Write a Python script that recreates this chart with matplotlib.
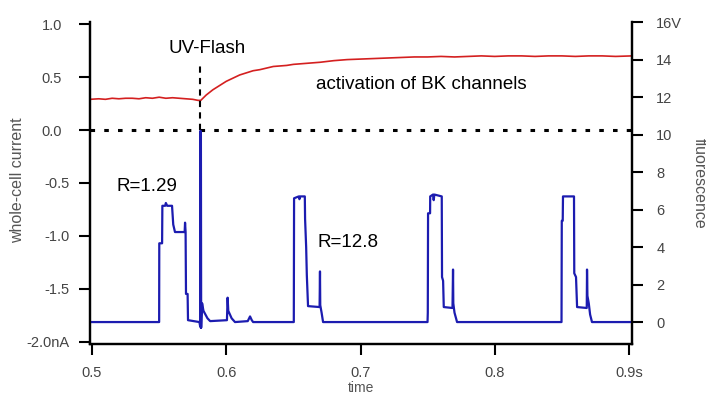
import matplotlib
matplotlib.use("Agg")
import matplotlib.pyplot as plt
from matplotlib.transforms import ScaledTranslation

plt.rcParams['font.family'] = ['Liberation Sans', 'DejaVu Sans']

# red trace (left axis, nA)
red_t = [0.4985, 0.505, 0.510, 0.515, 0.520, 0.525, 0.530, 0.535, 0.540, 0.545,
         0.550, 0.555, 0.560, 0.565, 0.570, 0.575, 0.579, 0.581, 0.585, 0.590,
         0.595, 0.600, 0.605, 0.610, 0.615, 0.620, 0.625, 0.630, 0.635, 0.640,
         0.645, 0.650, 0.660, 0.670, 0.680, 0.690, 0.700, 0.710, 0.720, 0.730,
         0.740, 0.750, 0.760, 0.770, 0.780, 0.790, 0.800, 0.810, 0.820, 0.830,
         0.840, 0.850, 0.860, 0.870, 0.880, 0.890, 0.9022]
red_v = [0.29, 0.295, 0.29, 0.30, 0.295, 0.30, 0.30, 0.295, 0.305, 0.30,
         0.31, 0.30, 0.305, 0.30, 0.295, 0.29, 0.28, 0.28, 0.33, 0.38,
         0.42, 0.46, 0.49, 0.52, 0.54, 0.56, 0.57, 0.585, 0.60, 0.605,
         0.61, 0.62, 0.63, 0.64, 0.655, 0.665, 0.67, 0.675, 0.68, 0.685,
         0.69, 0.69, 0.695, 0.69, 0.695, 0.70, 0.695, 0.70, 0.70, 0.695,
         0.70, 0.70, 0.695, 0.70, 0.70, 0.695, 0.70]

# blue trace (right axis, V)
blue_t = [0.4985, 0.5500, 0.5501, 0.5522, 0.5524, 0.5545, 0.5550, 0.5560, 0.5596,
          0.5605, 0.5618, 0.5690, 0.5693, 0.5697, 0.5700, 0.5712, 0.5715, 0.5800,
          0.5805, 0.5808, 0.5810, 0.5811, 0.5813, 0.5815, 0.5820, 0.5830, 0.5860,
          0.5880, 0.6005, 0.6010, 0.6015, 0.6040, 0.6065, 0.6160, 0.6177, 0.6190,
          0.6200,
          0.6503, 0.6505, 0.6540, 0.6545, 0.6550, 0.6585, 0.6587, 0.6595, 0.6600,
          0.6609, 0.6695, 0.6698, 0.6700, 0.6710, 0.6721,
          0.7499, 0.7501, 0.7503, 0.7518, 0.7519, 0.7540, 0.7545, 0.7550, 0.7605,
          0.7607, 0.7615, 0.7620, 0.7685, 0.7689, 0.7691, 0.7700, 0.7719,
          0.8497, 0.8499, 0.8506, 0.8508, 0.8590, 0.8592, 0.8605, 0.8613, 0.8685,
          0.8687, 0.8690, 0.8700, 0.8710, 0.8724, 0.9022]
blue_v = [0.0, 0.0, 4.2, 4.2, 6.2, 6.2, 6.35, 6.2, 6.2,
          5.2, 4.8, 4.8, 5.3, 4.8, 1.5, 1.5, 0.1, 0.0,
          -0.2, 10.2, -0.3, 10.0, -0.3, 0.2, 1.0, 0.6, 0.2,
          0.05, 0.1, 1.3, 0.6, 0.2, 0.0, 0.05, 0.3, 0.1,
          0.0,
          0.0, 6.6, 6.7, 6.55, 6.7, 6.7, 5.5, 4.0, 2.5,
          0.85, 0.8, 2.7, 0.9, 0.5, 0.0,
          0.0, 0.5, 5.8, 5.8, 6.7, 6.8, 6.5, 6.8, 6.7,
          2.4, 2.2, 0.8, 0.75, 2.8, 1.0, 0.5, 0.0,
          0.0, 5.4, 5.4, 6.7, 6.7, 2.6, 2.4, 0.8, 0.75,
          2.8, 1.4, 1.0, 0.4, 0.0, 0.0]

flash_t = 0.5805
left_ticks = [1.0, 0.5, 0.0, -0.5, -1.0, -1.5, -2.0]
left_labels = ['1.0', '0.5', '0.0', '-0.5', '-1.0', '-1.5', '-2.0nA']
right_ticks = [0, 2, 4, 6, 8, 10, 12, 14, 16]
right_labels = ['0', '2', '4', '6', '8', '10', '12', '14', '16V']
x_ticks = [0.5, 0.6, 0.7, 0.8, 0.9]
x_labels = ['0.5', '0.6', '0.7', '0.8', '0.9s']

fig = plt.figure(figsize=(7.06, 3.96), dpi=100)
ax = fig.add_axes([90 / 706, 1 - 344 / 396, 542 / 706, 322 / 396])
ax2 = ax.twinx()

ax.plot(red_t, red_v, color='#d42020', lw=1.2)
ax2.plot(blue_t, blue_v, color='#1c1cb0', lw=1.6)

ax.axhline(0.0, color='black', lw=2.2, linestyle=(0, (1.5, 3)))
ax.plot([flash_t, flash_t], [0.0, 0.61], color='black', lw=1.5, linestyle=(0, (3, 2.5)))

ax.set_xlim(0.4985, 0.9022)
ax.set_ylim(-2.02, 1.02)
ax2.set_ylim(-1.17, 16.0)

ax.set_xticks(x_ticks, x_labels)
ax.set_yticks(left_ticks, left_labels)
ax2.set_yticks(right_ticks, right_labels)

tc = '#444444'
for a in (ax, ax2):
    for s in a.spines.values():
        s.set_linewidth(1.6)
    a.spines['top'].set_visible(False)
    a.tick_params(direction='out', length=8, width=1.5, labelsize=10.5, labelcolor=tc)
ax.tick_params(axis='y', pad=6.5)
ax.tick_params(axis='x', pad=8)
ax2.tick_params(axis='y', pad=9.5)

# positive labels sit a little further left, as in the original
shift = ScaledTranslation(-8 / 100, 0, fig.dpi_scale_trans)
for lbl, v in zip(ax.get_yticklabels(), left_ticks):
    if v >= 0:
        lbl.set_transform(lbl.get_transform() + shift)

ax.text(0.5857, 0.77, 'UV-Flash', ha='center', va='center', fontsize=13.5)
ax.text(0.6669, 0.43, 'activation of BK channels', ha='left', va='center', fontsize=13.5)
ax.text(0.5186, -0.53, 'R=1.29', ha='left', va='center', fontsize=13.5)
ax.text(0.6676, -1.06, 'R=12.8', ha='left', va='center', fontsize=13.5)

fig.text(18 / 706, 1 - 180 / 396, 'whole-cell current', rotation=90,
         ha='center', va='center', fontsize=11.5, color='#555555')
fig.text(699 / 706, 1 - 183 / 396, 'fluorescence', rotation=270,
         ha='center', va='center', fontsize=11.5, color='#555555')
fig.text(361 / 706, 1 - 395 / 396, 'time', ha='center', va='bottom',
         fontsize=10, color='#555555')

fig.savefig('out.png', dpi=100)
